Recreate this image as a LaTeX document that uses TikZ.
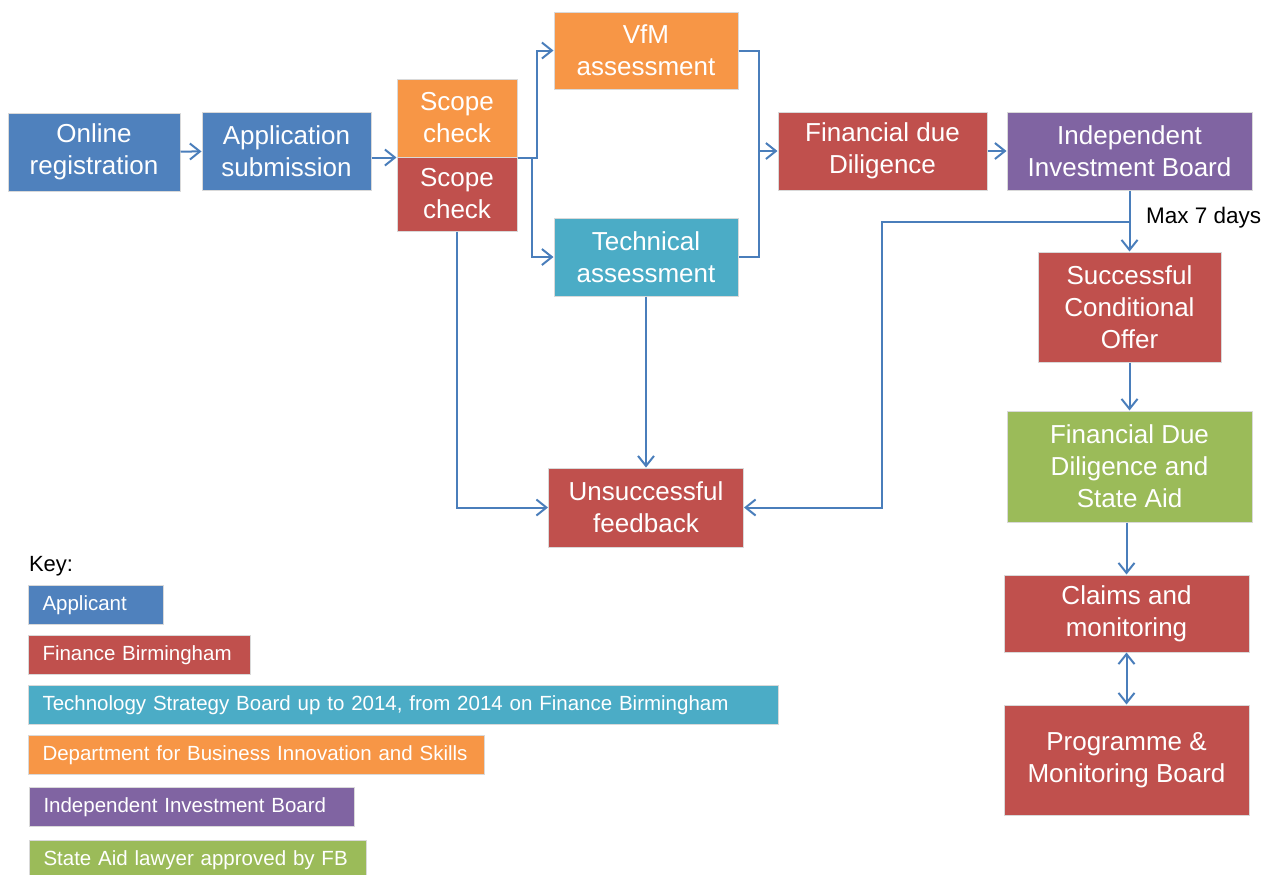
\documentclass[tikz,border=0pt]{standalone}
\usepackage{fontspec}
\setmainfont{Liberation Sans}
\usepackage{xcolor}
\definecolor{cApplicant}{HTML}{4F81BD}
\definecolor{cFinance}{HTML}{C0504D}
\definecolor{cTech}{HTML}{4BACC6}
\definecolor{cDept}{HTML}{F79646}
\definecolor{cBoard}{HTML}{8064A2}
\definecolor{cLawyer}{HTML}{9BBB59}
\definecolor{cLine}{HTML}{4A7EBB}
\usepackage{tikz}
\usetikzlibrary{positioning,arrows.meta}
\tikzset{
  node-box/.style={draw=black!15,line width=0.5pt,text=white,align=center,
    inner sep=1pt,font=\fontsize{13}{16}\selectfont},
  node-key/.style={draw=black!15,line width=0.5pt,text=white,align=left,
    anchor=north west,inner xsep=7pt,inner ysep=0pt,minimum height=19.5pt,
    font=\fontsize{10.25}{12}\selectfont},
  % one fill per party, as in the key
  fill-applicant/.style={fill=cApplicant},
  fill-finance/.style={fill=cFinance},
  fill-tech/.style={fill=cTech},
  fill-dept/.style={fill=cDept},
  fill-board/.style={fill=cBoard},
  fill-lawyer/.style={fill=cLawyer},
  arrow/.style={-{Straight Barb[length=5pt,width=8pt]},line width=1pt,draw=cLine},
  arrow-both/.style={{Straight Barb[length=5pt,width=8pt]}-{Straight Barb[length=5pt,width=8pt]},
    line width=1pt,draw=cLine},
  link/.style={line width=1pt,draw=cLine},
}

\begin{document}
\begin{tikzpicture}[x=0.5pt,y=-0.5pt]
  \useasboundingbox (0,0) rectangle (1269,874);

  % main flow
  \node[node-box,fill-applicant,minimum width=86pt,minimum height=39pt] (online) at (94,152) {Online\\registration};
  \node[node-box,fill-applicant,minimum width=84.5pt,minimum height=39pt] (apply) at (286.5,151) {Application\\submission};
  \node[node-box,fill-dept,minimum width=60pt,minimum height=39pt] (scopeA) at (457,118) {Scope\\check};
  \node[node-box,fill-finance,minimum width=60pt,minimum height=37pt] (scopeB) at (457,194) {Scope\\check};
  \node[node-box,fill-dept,minimum width=92pt,minimum height=38.5pt] (vfm) at (646,50.5) {VfM\\assessment};
  \node[node-box,fill-tech,minimum width=92pt,minimum height=39pt] (tech) at (646,257) {Technical\\assessment};
  \node[node-box,fill-finance,minimum width=104.5pt,minimum height=39pt] (fdd) at (882.5,151) {Financial due\\Diligence};
  \node[node-box,fill-board,minimum width=122.5pt,minimum height=39pt] (iib) at (1129.5,151) {Independent\\Investment Board};
  \node[node-box,fill-finance,minimum width=91.5pt,minimum height=55pt] (offer) at (1129.5,307) {Successful\\Conditional\\Offer};
  \node[node-box,fill-lawyer,minimum width=122.5pt,minimum height=55.5pt] (fddsa) at (1129.5,466.5) {Financial Due\\Diligence and\\State Aid};
  \node[node-box,fill-finance,minimum width=122.5pt,minimum height=38.5pt] (claims) at (1126.5,613.5) {Claims and\\monitoring};
  \node[node-box,fill-finance,minimum width=122.5pt,minimum height=55pt] (prog) at (1126.5,760) {Programme \&\\Monitoring Board};
  \node[node-box,fill-finance,minimum width=97.5pt,minimum height=39.5pt] (fail) at (646,507.5) {Unsuccessful\\feedback};

  \coordinate (split) at (532,157);
  \coordinate (merge) at (758,151);
  \coordinate (branch) at (1129,222);

  \draw[arrow] (online) -- (apply);
  \draw[arrow] (apply.east |- scopeA.south) -- (scopeA.south west);
  \draw[arrow] (scopeA.south east) -- ++(19,0) |- (vfm.west);
  \draw[arrow] (split) |- (tech.west);
  \draw[link] (vfm.east) -- ++(20,0) |- (tech.east);
  \draw[arrow] (merge) -- (fdd.west);
  \draw[arrow] (fdd) -- (iib);
  \draw[arrow] (iib) -- (offer);
  \node[font=\fontsize{11.25}{13}\selectfont,anchor=west] (maxdays) at (1139,218) {Max 7 days};
  \draw[arrow] (branch) -- (882,222) |- (fail.east);
  \draw[arrow] (scopeB.south) |- (fail.west);
  \draw[arrow] (tech.south) -- (fail.north);
  \draw[arrow] (offer) -- (fddsa);
  \draw[arrow] (fddsa.south -| claims.north) -- (claims.north);
  \draw[arrow-both] (claims) -- (prog);

  % key
  \node[font=\fontsize{11}{13}\selectfont,anchor=west] (keytitle) at (22,566) {Key:};
  \node[node-key,fill-applicant,text width=53.5pt] (kapp) at (28,585) {Applicant};
  \node[node-key,fill-finance,text width=97pt] (kfin) at (28,635) {Finance Birmingham};
  \node[node-key,fill-tech,text width=361pt] (ktech) at (28,685) {Technology Strategy Board up to 2014, from 2014 on Finance Birmingham};
  \node[node-key,fill-dept,text width=214pt] (kdept) at (28,735) {Department for Business Innovation and Skills};
  \node[node-key,fill-board,text width=148.5pt] (kboard) at (29,787) {Independent Investment Board};
  \node[node-key,fill-lawyer,text width=154.5pt] (klaw) at (29,840) {State Aid lawyer approved by FB};
\end{tikzpicture}
\end{document}
